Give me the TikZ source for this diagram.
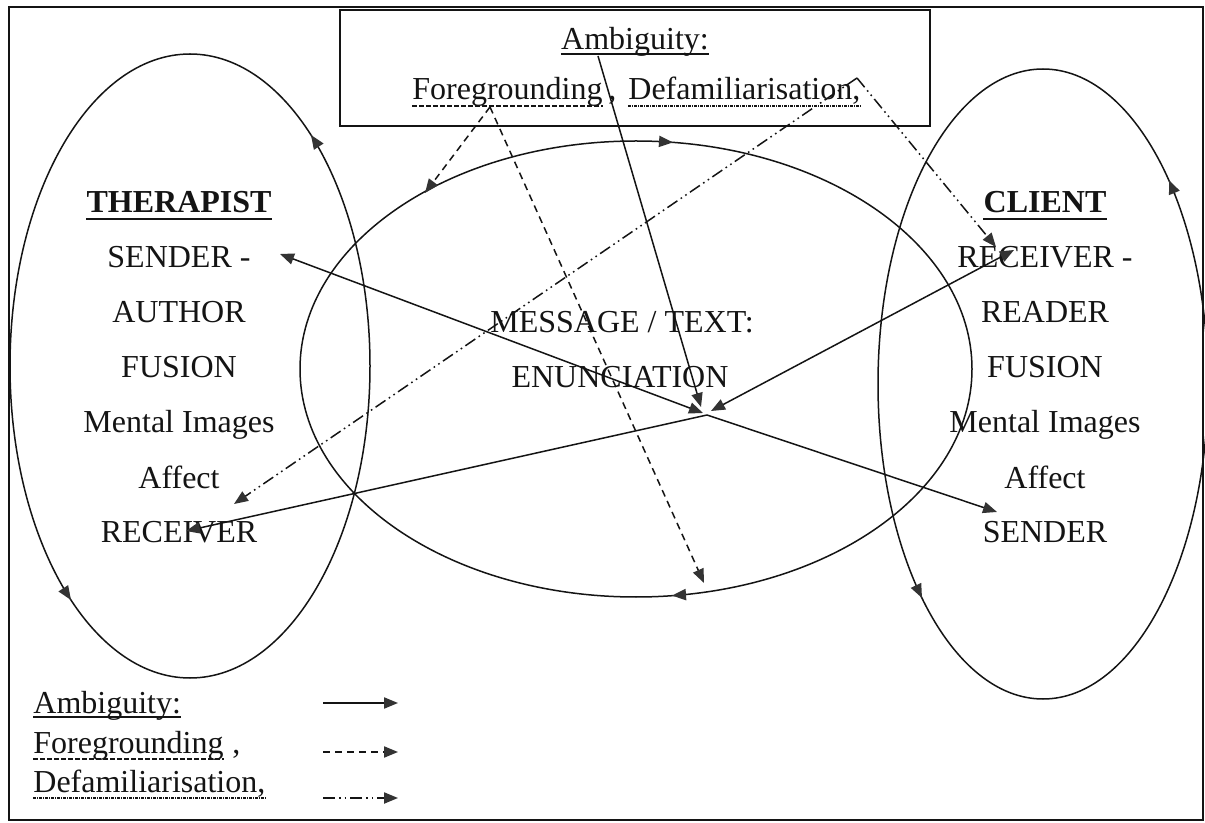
\documentclass[tikz,border=0pt]{standalone}
\usepackage{fontspec}
\setmainfont{Liberation Serif}
\usetikzlibrary{arrows.meta,calc}
\definecolor{ink}{HTML}{141414}
\definecolor{tipc}{HTML}{333333}
\begin{document}
\begin{tikzpicture}[x=0.5pt,y=-0.5pt,
  txt/.style={font=\fontsize{16}{19}\selectfont, inner sep=0pt, anchor=base, text=ink},
  txtw/.style={txt, anchor=base west},
  bold/.style={txt, font=\fontsize{16}{19}\selectfont\bfseries},
  ln/.style={draw=ink, line width=0.75pt},
  tip/.style={-{Triangle[length=7pt,width=5.6pt,color=tipc]}},
  dtip/.style={{Triangle[length=7pt,width=5.6pt,color=tipc]}-{Triangle[length=7pt,width=5.6pt,color=tipc]}},
  dsh/.style={dash pattern=on 3.5pt off 2.5pt},
  ddot/.style={dash pattern=on 6pt off 2pt on 0.8pt off 2pt on 0.8pt off 2pt},
  ulsolid/.style={draw=ink, line width=0.55pt},
  ulbold/.style={draw=ink, line width=1.1pt},
  uldash/.style={draw=ink, line width=0.65pt, dash pattern=on 2.5pt off 1pt},
  uldot/.style={draw=ink, line width=0.65pt, dash pattern=on 1.5pt off 0.5pt on 0.5pt off 0.5pt},
]
\useasboundingbox (0,0) rectangle (1205,823);
\fill[white] (0,0) rectangle (1205,823);

% frames
\draw[draw=ink, line width=1pt] (9,7) rectangle (1203,820);
\draw[draw=ink, line width=0.8pt] (340,10) rectangle (930,126);

% ellipses
\draw[ln] (190,366) ellipse [x radius=180, y radius=312];
\draw[ln] (1043,384) ellipse [x radius=165, y radius=315];
\draw[ln] (636,369) ellipse [x radius=336, y radius=228];

% arrowheads on ellipses
\draw[ln,tip] (318.6,146.5) -- (311,135);
\draw[ln,tip] (63.3,588.3) -- (71,600);
\draw[ln,tip] (1174.7,193.8) -- (1169,180);
\draw[ln,tip] (916.0,585.4) -- (922,598);
\draw[ln,tip] (659,141.4) -- (673,142.4);
\draw[ln,tip] (686,594.6) -- (672,595.6);

% text: therapist
\node[bold] (ther) at (179,213) {THERAPIST};
\node[txt] (tsend) at (179,268) {SENDER -};
\node[txt] (tauth) at (179,323) {AUTHOR};
\node[txt] (tfus) at (179,378) {FUSION};
\node[txt] (tmen) at (179,433) {Mental Images};
\node[txt] (taff) at (179,488) {Affect};
\node[txt] (trec) at (179,543) {RECEIVER};
\draw[ulbold] ($(ther.base west)+(0,6)$) -- ($(ther.base east)+(0,6)$);

% text: client
\node[bold] (cli) at (1045,213) {CLIENT};
\node[txt] (crec) at (1045,268) {RECEIVER -};
\node[txt] (cread) at (1045,323) {READER};
\node[txt] (cfus) at (1045,378) {FUSION};
\node[txt] (cmen) at (1045,433) {Mental Images};
\node[txt] (caff) at (1045,488) {Affect};
\node[txt] (csend) at (1045,543) {SENDER};
\draw[ulbold] ($(cli.base west)+(0,6)$) -- ($(cli.base east)+(0,6)$);

% text: message
\node[txt] (msg) at (622,333) {MESSAGE / TEXT:};
\node[txt] (enun) at (620,388) {ENUNCIATION};

% text: top box
\node[txt] (ambT) at (635,50) {Ambiguity:};
\draw[ulsolid] ($(ambT.base west)+(0,4)$) -- ($(ambT.base east)+(0,4)$);
\node[txtw] (fgT) at (412,100) {Foregrounding};
\node[txtw] (cmT) at (608,100) {,};
\node[txtw] (dfT) at (628,100) {Defamiliarisation,};
\draw[uldash] ($(fgT.base west)+(0,6)$) -- ($(fgT.base east)+(0,6)$);
\draw[uldot] ($(dfT.base west)+(0,6)$) -- ($(dfT.base east)+(0,6)$);

% legend
\node[txtw] (ambL) at (33,713) {Ambiguity:};
\draw[ulsolid] ($(ambL.base west)+(0,4)$) -- ($(ambL.base east)+(0,4)$);
\node[txtw] (fgL) at (33,753) {Foregrounding};
\node[txtw] (cmL) at ($(fgL.base east)+(8,0)$) {,};
\draw[uldash] ($(fgL.base west)+(0,6)$) -- ($(fgL.base east)+(0,6)$);
\node[txtw] (dfL) at (33,792) {Defamiliarisation,};
\draw[uldot] ($(dfL.base west)+(0,6)$) -- ($(dfL.base east)+(0,6)$);

\coordinate (lg1a) at (323,703); \coordinate (lg1b) at (398,703);
\coordinate (lg2a) at (323,752); \coordinate (lg2b) at (398,752);
\coordinate (lg3a) at (323,798); \coordinate (lg3b) at (398,798);
\draw[ln,tip] (lg1a) -- (lg1b);
\draw[ln,tip,dsh] (lg2a) -- (lg2b);
\draw[ln,tip,ddot] (lg3a) -- (lg3b);

% connector end points
\coordinate (ambS) at (598,56);
\coordinate (hubA) at (701,407);
\coordinate (hubL) at (703,413);
\coordinate (hubR) at (711,411);
\coordinate (hubO) at (707,415);
\coordinate (tSt) at (280,254);
\coordinate (tRt) at (186,531);
\coordinate (cRt) at (1014,250);
\coordinate (cSt) at (997,512);
\coordinate (fgS) at (490,107);
\coordinate (fgE1) at (425,193);
\coordinate (fgE2) at (704,583);
\coordinate (dfS) at (857,78);
\coordinate (dfE1) at (234,504);
\coordinate (dfE2) at (996,247);

% solid connectors
\draw[ln,tip] (ambS) -- (hubA);
\draw[ln,dtip] (tSt) -- (hubL);
\draw[ln,dtip] (cRt) -- (hubR);
\draw[ln,tip] (hubO) -- (tRt);
\draw[ln,tip] (hubO) -- (cSt);

% dashed connectors
\draw[ln,tip,dsh] (fgS) -- (fgE1);
\draw[ln,tip,dsh] (fgS) -- (fgE2);

% dash-dot connectors
\draw[ln,tip,ddot] (dfS) -- (dfE1);
\draw[ln,tip,ddot] (dfS) -- (dfE2);
\end{tikzpicture}
\end{document}
